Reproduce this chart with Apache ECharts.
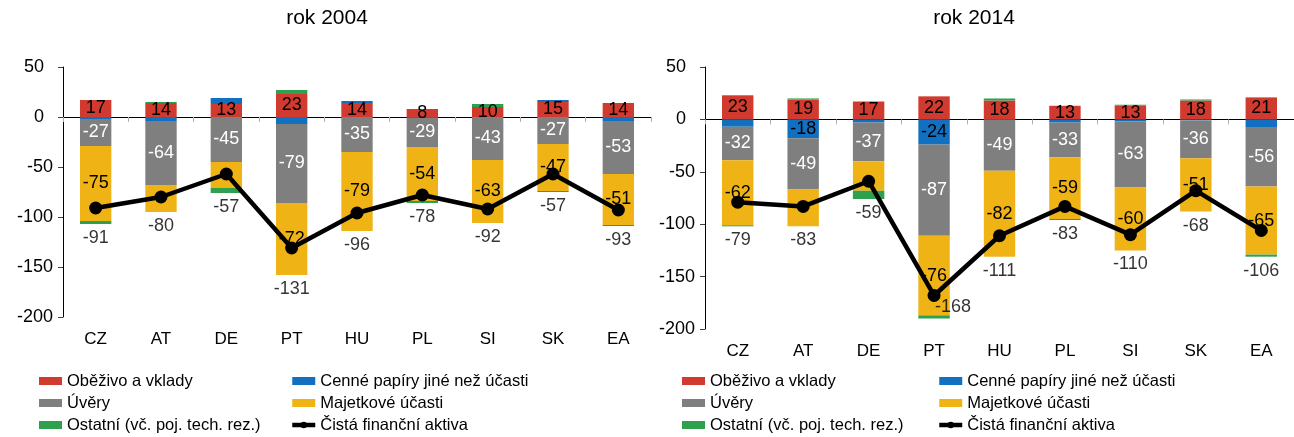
<!DOCTYPE html>
<html>
<head>
<meta charset="utf-8">
<script src="https://cdn.jsdelivr.net/npm/echarts@6/dist/echarts.min.js"></script>
<style>
  html, body { margin: 0; padding: 0; background: #fff; }
  #chart { width: 1294px; height: 437px; }
</style>
</head>
<body>
<div id="chart"></div>
<script>
// Countries on the category axis
const categories = ['CZ', 'AT', 'DE', 'PT', 'HU', 'PL', 'SI', 'SK', 'EA'];

// Value axis range and step (% of GDP)
const yMin = -200;
const yMax = 50;
const yStep = 50;

// 2004: components of net financial assets
const deposits2004   = [17, 14, 13, 23, 14, 8, 10, 15, 14];
const securities2004 = [-2, -4, 6, -7, 2, -1, 0, 2, -4];
const loans2004      = [-27, -64, -45, -79, -35, -29, -43, -27, -53];
const equity2004     = [-75, -27, -26, -72, -79, -54, -63, -47, -51];
const other2004      = [-3, 1, -5, 4, 0, -2, 3, -1, -1];
const net2004        = [-91, -80, -57, -131, -96, -78, -92, -57, -93];

// 2014: components of net financial assets
const deposits2014   = [23, 19, 17, 22, 18, 13, 13, 18, 21];
const securities2014 = [-7, -18, -3, -24, 0, -3, -2, -1, -8];
const loans2014      = [-32, -49, -37, -87, -49, -33, -63, -36, -56];
const equity2014     = [-62, -35, -28, -76, -82, -59, -60, -51, -65];
const other2014      = [-1, 1, -8, -3, 2, -1, 1, 1, -2];
const net2014        = [-79, -83, -59, -168, -111, -83, -110, -68, -106];

// Countries whose equity segment carries no value label
const equityUnlabeled = ['AT', 'DE'];

const NAMES = {
  deposits: 'Oběživo a vklady',
  securities: 'Cenné papíry jiné než účasti',
  loans: 'Úvěry',
  equity: 'Majetkové účasti',
  other: 'Ostatní (vč. poj. tech. rez.)',
  net: 'Čistá finanční aktiva'
};
const COLORS = {
  deposits: '#D13B2F',
  securities: '#1170BF',
  loans: '#7F7F7F',
  equity: '#EFB315',
  other: '#2FA04E',
  net: '#000000'
};
const FONT = '"Liberation Sans", Arial, sans-serif';

const panels = [
  { title: 'rok 2004', titleX: 327,
    grid: { left: 63, top: 67, width: 588, height: 250 },
    legendX: [39, 290],
    netAtPoint: [],
    d: { deposits: deposits2004, securities: securities2004, loans: loans2004,
         equity: equity2004, other: other2004, net: net2004 } },
  { title: 'rok 2014', titleX: 974,
    grid: { left: 705, top: 67, width: 589, height: 262 },
    legendX: [682, 937],
    netAtPoint: ['PT'],
    d: { deposits: deposits2014, securities: securities2014, loans: loans2014,
         equity: equity2014, other: other2014, net: net2014 } }
];

const stackKeys = ['deposits', 'securities', 'loans', 'equity', 'other'];

function barLabel(key) {
  const base = { show: true, position: 'inside', fontSize: 18, fontFamily: FONT, color: '#000' };
  if (key === 'deposits') return base;
  if (key === 'securities') {
    return Object.assign({}, base, { formatter: p => Math.abs(p.value) >= 10 ? String(p.value) : '' });
  }
  if (key === 'loans') return Object.assign({}, base, { color: '#fff' });
  if (key === 'equity') {
    return Object.assign({}, base, {
      formatter: p => equityUnlabeled.includes(categories[p.dataIndex]) ? '' : String(p.value)
    });
  }
  return { show: false };
}

const option = {
  backgroundColor: '#fff',
  animation: false,
  title: [], grid: [], xAxis: [], yAxis: [], legend: [], series: []
};

panels.forEach((panel, i) => {
  option.title.push({
    text: panel.title, left: panel.titleX, top: 8, padding: 0, textAlign: 'center',
    textStyle: { fontSize: 21, fontWeight: 'normal', color: '#000', fontFamily: FONT }
  });
  option.grid.push(Object.assign({ outerBoundsMode: 'none', containLabel: false }, panel.grid));

  // category labels along the bottom of the plot
  option.xAxis.push({
    gridIndex: i, type: 'category', data: categories, position: 'bottom',
    axisLine: { show: false, onZero: false }, axisTick: { show: false },
    axisLabel: { fontSize: 17, color: '#000', fontFamily: FONT, margin: 14 }
  });
  // baseline through zero with its tick marks
  option.xAxis.push({
    gridIndex: i, type: 'category', data: categories, position: 'top',
    axisLine: { show: true, onZero: true, lineStyle: { color: '#000', width: 1 } },
    axisTick: { show: true, inside: true, length: 5, lineStyle: { color: '#b0b0b0' } },
    axisLabel: { show: false }
  });
  option.yAxis.push({
    gridIndex: i, type: 'value', min: yMin, max: yMax, interval: yStep,
    axisLine: { show: true, lineStyle: { color: '#000' } },
    axisTick: { show: true, length: 5, lineStyle: { color: '#404040' } },
    splitLine: { show: false },
    axisLabel: {
      fontSize: 18, color: '#000', fontFamily: FONT, margin: 10,
      formatter: v => v >= 0 ? v + '\u2002' : String(v)
    }
  });

  const d = panel.d;
  stackKeys.forEach(key => {
    option.series.push({
      type: 'bar', name: NAMES[key], xAxisIndex: i * 2, yAxisIndex: i,
      stack: 'fin' + i, barWidth: '48%', data: d[key],
      itemStyle: { color: COLORS[key] },
      label: barLabel(key),
      emphasis: { disabled: true }
    });
  });

  option.series.push({
    type: 'line', name: NAMES.net, xAxisIndex: i * 2, yAxisIndex: i, data: d.net,
    symbol: 'circle', symbolSize: 13, z: 5,
    lineStyle: { color: COLORS.net, width: 4.5 },
    itemStyle: { color: COLORS.net },
    emphasis: { disabled: true }
  });

  // net value printed beneath the negative part of each stack
  const netLabels = categories.map((c, k) => {
    const negSum = stackKeys.reduce((s, key) => s + Math.min(0, d[key][k]), 0);
    if (panel.netAtPoint.includes(c)) {
      return { value: d.net[k], label: { distance: 3, offset: [19, 0] } };
    }
    return { value: negSum };
  });
  option.series.push({
    type: 'scatter', name: 'net-values-' + i, xAxisIndex: i * 2, yAxisIndex: i,
    data: netLabels, symbolSize: 0, silent: true, z: 6,
    label: {
      show: true, position: 'bottom', distance: 5, fontSize: 18, fontFamily: FONT, color: '#000',
      formatter: p => String(d.net[p.dataIndex])
    }
  });

  const legendCommon = {
    orient: 'vertical', top: 372, itemWidth: 23, itemHeight: 8, itemGap: 4,
    selectedMode: false, padding: 0,
    textStyle: { fontSize: 16.5, color: '#000', fontFamily: FONT, lineHeight: 18 }
  };
  option.legend.push(Object.assign({}, legendCommon, {
    left: panel.legendX[0],
    data: [NAMES.deposits, NAMES.loans, NAMES.other].map(n => ({ name: n, icon: 'rect' }))
  }));
  option.legend.push(Object.assign({}, legendCommon, {
    left: panel.legendX[1],
    lineStyle: { width: 4.5, color: '#000' },
    itemStyle: { color: '#000' },
    data: [
      { name: NAMES.securities, icon: 'rect', itemStyle: { color: COLORS.securities } },
      { name: NAMES.equity, icon: 'rect', itemStyle: { color: COLORS.equity } },
      { name: NAMES.net }
    ]
  }));
});

const chart = echarts.init(document.getElementById('chart'), null, { renderer: 'canvas' });
chart.setOption(option);
</script>
</body>
</html>
